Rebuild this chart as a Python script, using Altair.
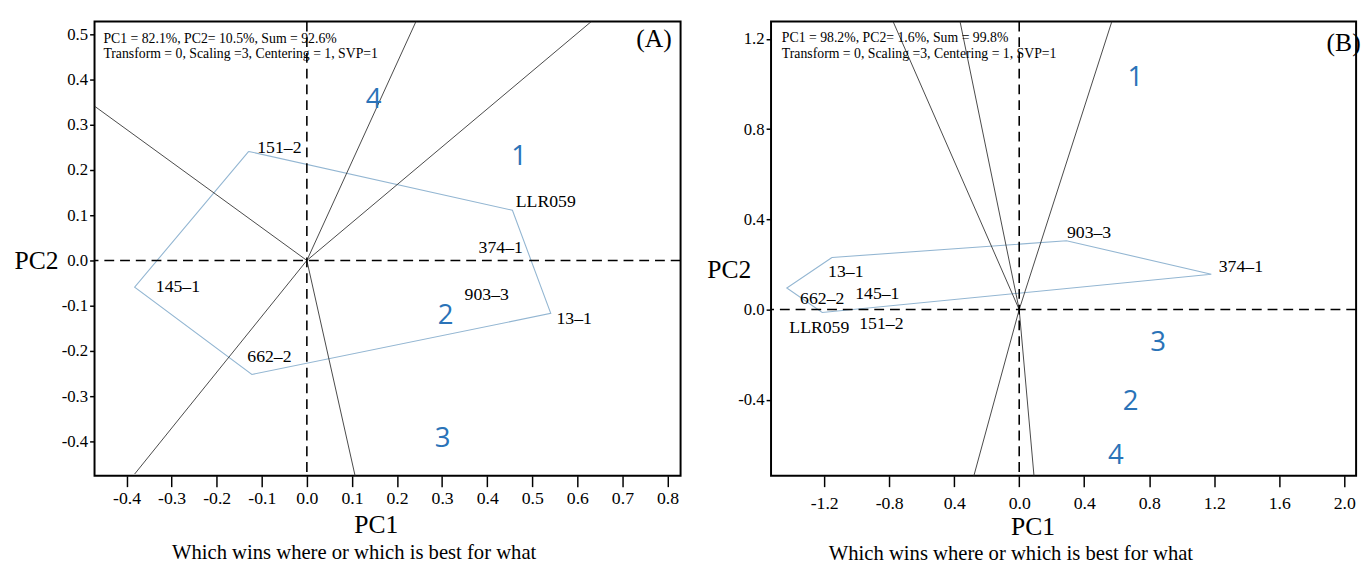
import json
import altair as alt
import pandas as pd

# ---------------- Panel A data ----------------
A_geno = ["151–2", "LLR059", "374–1", "903–3", "13–1", "662–2", "145–1"]
A_lab_x = [-0.061, 0.530, 0.430, 0.399, 0.593, -0.083, -0.286]
A_lab_y = [0.248, 0.130, 0.028, -0.076, -0.130, -0.213, -0.059]

A_hull_x = [-0.129, 0.456, 0.541, -0.122, -0.382, -0.129]
A_hull_y = [0.241, 0.111, -0.117, -0.252, -0.059, 0.241]

A_ray_x = [-0.471, 0.242, 0.631, -0.382, 0.107]
A_ray_y = [0.341, 0.528, 0.528, -0.472, -0.476]

A_env = ["1", "2", "3", "4"]
A_env_x = [0.471, 0.308, 0.301, 0.148]
A_env_y = [0.228, -0.124, -0.396, 0.354]

A_xdom = [-0.471, 0.829]
A_ydom = [-0.476, 0.528]
A_xticks = [-0.4, -0.3, -0.2, -0.1, 0.0, 0.1, 0.2, 0.3, 0.4, 0.5, 0.6, 0.7, 0.8]
A_xlabels = ["-0.4", "-0.3", "-0.2", "-0.1", "0.0", "0.1", "0.2", "0.3", "0.4", "0.5", "0.6", "0.7", "0.8"]
A_yticks = [0.5, 0.4, 0.3, 0.2, 0.1, 0.0, -0.1, -0.2, -0.3, -0.4]
A_ylabels = ["0.5", "0.4", "0.3", "0.2", "0.1", "0.0", "-0.1", "-0.2", "-0.3", "-0.4"]
A_info = ["PC1 = 82.1%, PC2= 10.5%, Sum = 92.6%",
          "Transform = 0, Scaling =3, Centering = 1, SVP=1"]

# ---------------- Panel B data ----------------
B_geno = ["13–1", "903–3", "374–1", "662–2", "145–1", "LLR059", "151–2"]
B_lab_x = [-1.067, 0.430, 1.364, -1.212, -0.873, -1.230, -0.848]
B_lab_y = [0.166, 0.340, 0.187, 0.048, 0.070, -0.083, -0.065]

B_hull_x = [-1.152, 0.291, 1.182, -1.212, -1.430, -1.152]
B_hull_y = [0.231, 0.305, 0.157, -0.013, 0.096, 0.231]

B_ray_x = [-0.776, -0.364, 0.570, -0.279, 0.091]
B_ray_y = [1.277, 1.277, 1.277, -0.737, -0.737]

B_env = ["1", "3", "2", "4"]
B_env_x = [0.715, 0.855, 0.685, 0.594]
B_env_y = [1.024, -0.148, -0.410, -0.650]

B_xdom = [-1.527, 2.073]
B_ydom = [-0.737, 1.277]
B_xticks = [-1.2, -0.8, -0.4, 0.0, 0.4, 0.8, 1.2, 1.6, 2.0]
B_xlabels = ["-1.2", "-0.8", "0.4", "0.0", "0.4", "0.8", "1.2", "1.6", "2.0"]
B_yticks = [1.2, 0.8, 0.4, 0.0, -0.4]
B_ylabels = ["1.2", "0.8", "0.4", "0.0", "-0.4"]
B_info = ["PC1 = 98.2%, PC2= 1.6%, Sum = 99.8%",
          "Transform = 0, Scaling =3, Centering = 1, SVP=1"]

CAPTION = "Which wins where or which is best for what"

SERIF = "Liberation Serif"
SANS = "Open Sans"
HULL_COLOR = "#93b6d2"
ENV_COLOR = "#2a73b8"
RAY_COLOR = "#333333"


def label_expr(values, labels):
    return f"{json.dumps(labels)}[indexof({json.dumps(values)}, datum.value)]"


def panel(p):
    W, H = p["W"], p["H"]
    xs = alt.Scale(domain=p["xdom"], nice=False, zero=False)
    ys = alt.Scale(domain=p["ydom"], nice=False, zero=False)

    xaxis = alt.Axis(values=p["xticks"], labelExpr=label_expr(p["xticks"], p["xlabels"]),
                     title="PC1", titleFont=SERIF, titleFontSize=26, titleFontWeight="normal",
                     titleColor="black", titleX=p["pc1x"], titleY=p["pc1y"],
                     titleBaseline="middle", titleAlign="center",
                     tickSize=11, labelPadding=p["xlabpad"], labelFont=SERIF, labelFontSize=18,
                     labelColor="black", tickColor="black", tickWidth=1.5, domain=False,
                     grid=False, labelFlush=False, labelOverlap=False)
    yaxis = alt.Axis(values=p["yticks"], labelExpr=label_expr(p["yticks"], p["ylabels"]),
                     title="PC2", titleFont=SERIF, titleFontSize=26, titleFontWeight="normal",
                     titleColor="black", titleAngle=0, titleX=p["pc2x"], titleY=p["pc2y"],
                     titleBaseline="middle", titleAlign="center",
                     tickSize=5, labelPadding=2, labelFont=SERIF, labelFontSize=17,
                     labelColor="black", tickColor="black", tickWidth=1.5, domain=False,
                     grid=False, labelFlush=False, labelOverlap=False)

    hull_df = pd.DataFrame({"x": p["hull_x"], "y": p["hull_y"], "o": list(range(len(p["hull_x"])))})
    hull = alt.Chart(hull_df).mark_line(color=HULL_COLOR, strokeWidth=1.1, clip=True).encode(
        x=alt.X("x:Q", scale=xs, axis=xaxis),
        y=alt.Y("y:Q", scale=ys, axis=yaxis),
        order="o:Q",
    )

    ray_df = pd.DataFrame({"x0": [0.0] * len(p["ray_x"]), "y0": [0.0] * len(p["ray_x"]),
                           "x1": p["ray_x"], "y1": p["ray_y"]})
    rays = alt.Chart(ray_df).mark_rule(color=RAY_COLOR, strokeWidth=0.9, clip=True).encode(
        x=alt.X("x0:Q", scale=xs), y=alt.Y("y0:Q", scale=ys), x2="x1:Q", y2="y1:Q")

    zero = pd.DataFrame({"v": [0.0]})
    vline = alt.Chart(zero).mark_rule(color="black", strokeWidth=1.6, strokeDash=[10, 6]).encode(
        x=alt.X("v:Q", scale=xs))
    hline = alt.Chart(zero).mark_rule(color="black", strokeWidth=1.6, strokeDash=[10, 6]).encode(
        y=alt.Y("v:Q", scale=ys))

    lab_df = pd.DataFrame({"g": p["geno"], "x": p["lab_x"], "y": p["lab_y"]})
    labels = alt.Chart(lab_df).mark_text(font=SERIF, fontSize=18, color="black",
                                         align="center", baseline="middle").encode(
        x=alt.X("x:Q", scale=xs), y=alt.Y("y:Q", scale=ys), text="g:N")

    env_df = pd.DataFrame({"e": p["env"], "x": p["env_x"], "y": p["env_y"]})
    envs = alt.Chart(env_df).mark_text(font=SANS, fontSize=28, color=ENV_COLOR,
                                       align="center", baseline="middle").encode(
        x=alt.X("x:Q", scale=xs), y=alt.Y("y:Q", scale=ys), text="e:N")

    info_df = pd.DataFrame({"t": p["info"], "py": p["info_y"]})
    info = alt.Chart(info_df).mark_text(font=SERIF, fontSize=14, color="black",
                                        align="left", baseline="middle").encode(
        x=alt.value(p["info_x"]), y=alt.Y("py:Q", scale=None), text="t:N")

    tag = alt.Chart(pd.DataFrame({"t": [p["tag"]]})).mark_text(
        font=SERIF, fontSize=26, color="black", align="left", baseline="middle").encode(
        x=alt.value(p["tag_x"]), y=alt.value(p["tag_y"]), text="t:N")

    cap = alt.Chart(pd.DataFrame({"t": [CAPTION]})).mark_text(
        font=SERIF, fontSize=21, color="black", align="center", baseline="middle").encode(
        x=alt.value(p["cap_x"]), y=alt.value(p["cap_y"]), text="t:N")

    return alt.layer(hull, rays, vline, hline, labels, envs, info, tag, cap).properties(
        width=W, height=H)


A = panel(dict(W=596, H=462, xdom=A_xdom, ydom=A_ydom, xticks=A_xticks, xlabels=A_xlabels,
               yticks=A_yticks, ylabels=A_ylabels, pc1x=286, pc1y=50, xlabpad=3,
               pc2x=-59.5, pc2y=243, hull_x=A_hull_x, hull_y=A_hull_y,
               ray_x=A_ray_x, ray_y=A_ray_y, geno=A_geno, lab_x=A_lab_x, lab_y=A_lab_y,
               env=A_env, env_x=A_env_x, env_y=A_env_y, info=A_info, info_y=[18, 33],
               info_x=9, tag="(A)", tag_x=551, tag_y=18, cap_x=264, cap_y=541))

B = panel(dict(W=595, H=462, xdom=B_xdom, ydom=B_ydom, xticks=B_xticks, xlabels=B_xlabels,
               yticks=B_yticks, ylabels=B_ylabels, pc1x=266, pc1y=52, xlabpad=8,
               pc2x=-43, pc2y=252, hull_x=B_hull_x, hull_y=B_hull_y,
               ray_x=B_ray_x, ray_y=B_ray_y, geno=B_geno, lab_x=B_lab_x, lab_y=B_lab_y,
               env=B_env, env_x=B_env_x, env_y=B_env_y, info=B_info, info_y=[17, 33],
               info_x=11, tag="(B)", tag_x=565, tag_y=22, cap_x=244, cap_y=542))

chart = alt.hconcat(A, B, spacing=23).properties(
    padding={"left": 5, "top": 7, "right": 0, "bottom": 0}
).configure_view(stroke="black", strokeWidth=2).configure_axis(
    labelFont=SERIF, titleFont=SERIF
)

chart.save("out.html", embed_options={"renderer": "svg", "actions": False})
